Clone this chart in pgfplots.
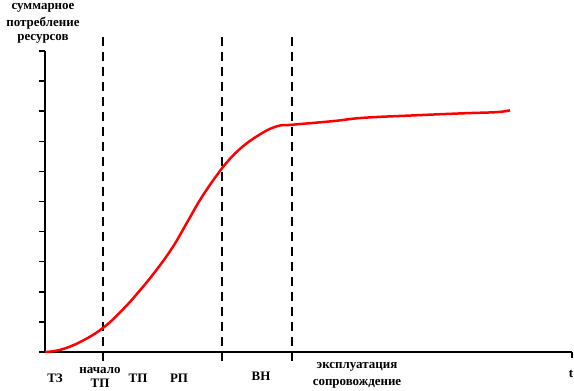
\documentclass[border=0pt]{standalone}
\usepackage{pgfplots}
\pgfplotsset{compat=1.18}
\usepackage{fontspec}
\setmainfont{Liberation Serif}
\begin{document}
\begin{tikzpicture}[x=1bp,y=1bp,font=\fontsize{13}{15}\selectfont\bfseries]
\useasboundingbox (0,0) rectangle (574,390);
\begin{axis}[
  at={(45bp,38bp)}, anchor=south west,
  scale only axis, width=527bp, height=301bp,
  xmin=0, xmax=527, ymin=0, ymax=10,
  axis lines=left, axis line style={line width=1.5bp, -},
  tick align=outside, major tick length=6bp,
  tick style={line width=1.5bp, black},
  ytick={0,1,...,10}, yticklabels={},
  xtick={527}, xticklabels={},
  clip=false,
]
\addplot[black, line width=1.5bp, dash pattern=on 9bp off 6bp] coordinates {(58,10.47) (58,-0.37)};
\addplot[black, line width=1.5bp, dash pattern=on 9bp off 6bp] coordinates {(177,10.47) (177,-0.37)};
\addplot[black, line width=1.5bp, dash pattern=on 9bp off 6bp] coordinates {(247,10.47) (247,-0.37)};
\addplot[red, line width=2.5bp, smooth, tension=0.7] coordinates {
(0,0) (15,0.07) (35,0.33) (58,0.8) (78,1.42) (95,2.05) (112,2.75)
(128,3.5) (142,4.3) (155,5.05) (168,5.7) (178,6.15) (195,6.75) (215,7.23)
(232,7.5) (247,7.55) (288,7.67) (318,7.78) (368,7.86)
(418,7.93) (452,7.97) (465,8.03)};
\node[font=\fontsize{13}{15}\selectfont\bfseries, inner sep=1bp] at (axis cs:-2,11.42) {суммарное};
\node[font=\fontsize{13}{15}\selectfont\bfseries, inner sep=1bp] at (axis cs:-2,10.93) {потребление};
\node[font=\fontsize{13}{15}\selectfont\bfseries, inner sep=1bp] at (axis cs:-2,10.4) {ресурсов};
\node[font=\fontsize{13}{15}\selectfont\bfseries] at (axis cs:10,-0.87) {ТЗ};
\node[font=\fontsize{13}{15}\selectfont\bfseries] at (axis cs:55,-0.6) {начало};
\node[font=\fontsize{13}{15}\selectfont\bfseries] at (axis cs:55,-1.03) {ТП};
\node[font=\fontsize{13}{15}\selectfont\bfseries] at (axis cs:93,-0.87) {ТП};
\node[font=\fontsize{13}{15}\selectfont\bfseries] at (axis cs:134,-0.87) {РП};
\node[font=\fontsize{13}{15}\selectfont\bfseries] at (axis cs:216,-0.8) {ВН};
\node[font=\fontsize{13}{15}\selectfont\bfseries] at (axis cs:312,-0.5) {эксплуатация};
\node[font=\fontsize{13}{15}\selectfont\bfseries] at (axis cs:312,-1.07) {сопровождение};
\node[font=\fontsize{13}{15}\selectfont\bfseries] at (axis cs:526,-0.73) {t};
\end{axis}
\end{tikzpicture}
\end{document}
